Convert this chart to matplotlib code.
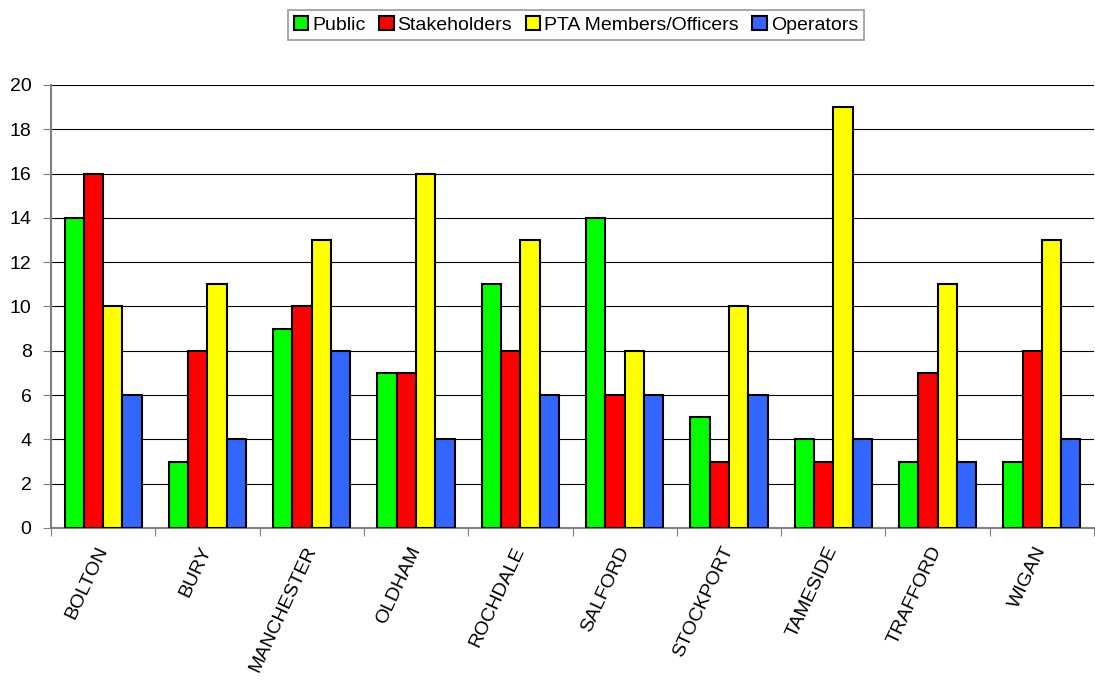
import numpy as np
import matplotlib.pyplot as plt

plt.rcParams['font.family'] = ['Liberation Sans', 'DejaVu Sans']

districts = ['BOLTON', 'BURY', 'MANCHESTER', 'OLDHAM', 'ROCHDALE',
             'SALFORD', 'STOCKPORT', 'TAMESIDE', 'TRAFFORD', 'WIGAN']
public = [14, 3, 9, 7, 11, 14, 5, 4, 3, 3]
stakeholders = [16, 8, 10, 7, 8, 6, 3, 3, 7, 8]
pta = [10, 11, 13, 16, 13, 8, 10, 19, 11, 13]
operators = [6, 4, 8, 4, 6, 6, 6, 4, 3, 4]

series = [
    ('Public', public, '#00ff00'),
    ('Stakeholders', stakeholders, '#ff0000'),
    ('PTA Members/Officers', pta, '#ffff00'),
    ('Operators', operators, '#3366ff'),
]

fig = plt.figure(figsize=(10.95, 6.88), dpi=100)
ax = fig.add_axes([0.0466, 0.2326, 0.9525, 0.6439])

x = np.arange(len(districts))
w = 0.185
for i, (name, vals, col) in enumerate(series):
    ax.bar(x + (i - 1.5) * w, vals, w, color=col, edgecolor='black',
           linewidth=1.5, label=name, zorder=3)

ax.set_xlim(-0.5, len(districts) - 0.5)
ax.set_ylim(0, 20)
ax.set_yticks(range(0, 21, 2))
ax.yaxis.grid(True, color='black', linewidth=0.8, zorder=0)
# group separators as major ticks, district names on minor ticks
ax.set_xticks(np.arange(len(districts) + 1) - 0.5, minor=False)
ax.set_xticklabels([])
ax.set_xticks(x, minor=True)
ax.set_xticklabels(districts, minor=True, rotation=65, ha='right',
                   va='center', rotation_mode='anchor', fontsize=14)
ax.tick_params(axis='x', which='minor', length=0, pad=14)
ax.tick_params(axis='x', which='major', length=6, color='#808080', direction='out')
ax.tick_params(axis='y', length=6, color='#808080', labelsize=14, pad=8)

for s in ['top', 'right']:
    ax.spines[s].set_visible(False)
for s in ['left', 'bottom']:
    ax.spines[s].set_color('#808080')
    ax.spines[s].set_linewidth(1.5)

leg = fig.legend(loc='center', bbox_to_anchor=(0.526, 0.964), ncol=4,
                 fontsize=14, frameon=True, fancybox=False, handlelength=0.75,
                 handleheight=0.75, handletextpad=0.2, columnspacing=0.7,
                 borderpad=0.3)
leg.get_frame().set_edgecolor('#808080')
leg.get_frame().set_linewidth(1.2)

fig.savefig('out.png', dpi=100)
